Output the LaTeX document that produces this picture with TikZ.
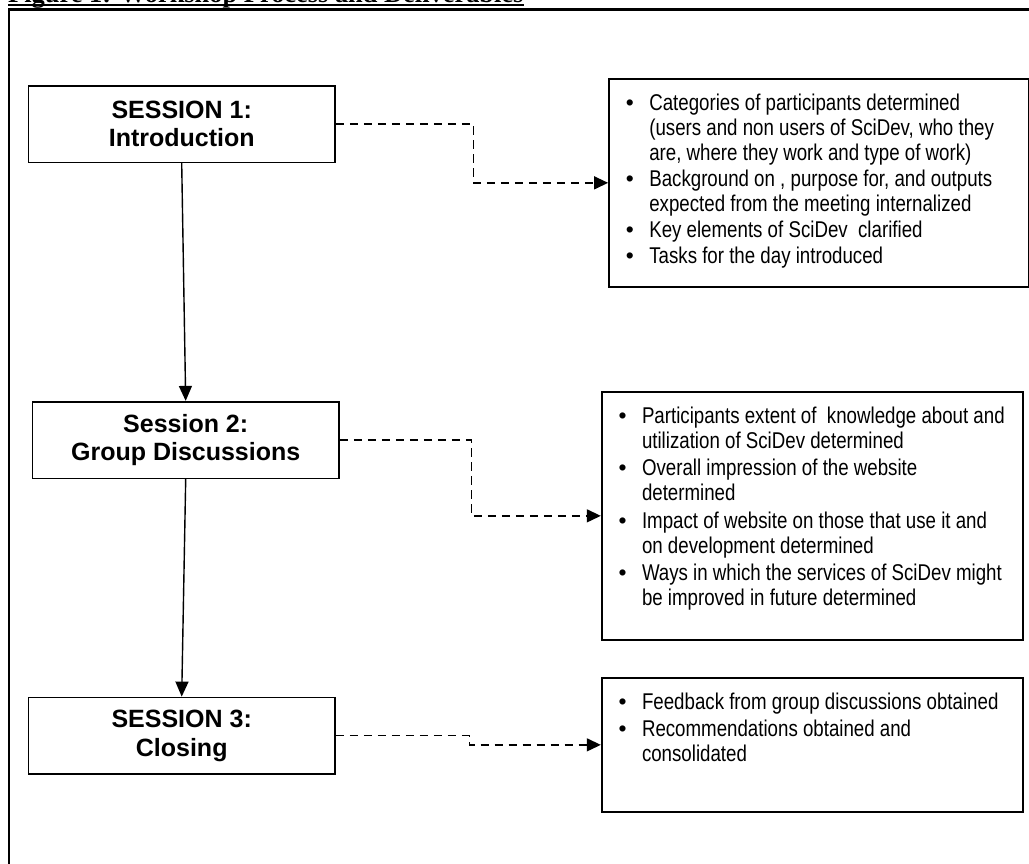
\documentclass[tikz,border=0pt]{standalone}
\usepackage{fontspec}
\setmainfont{Liberation Sans}
\newfontfamily\narrowfont[FakeStretch=0.82]{Liberation Sans}
\newfontfamily\bulletfont{Liberation Sans}
\newfontfamily\titlefont{Liberation Serif}
\usetikzlibrary{arrows.meta}
\newcommand\bl{\makebox[39pt][c]{{\bulletfont\symbol{"2022}}}}
\newcommand\ind{\hspace*{39pt}}
\tikzset{
  sessionbox/.style={draw, line width=1.6pt, minimum width=306.6pt, minimum height=76.6pt, inner sep=0pt, align=center, font=\fontsize{25}{28.5}\selectfont\bfseries},
  resultbox/.style={draw, line width=1.8pt, inner sep=0pt},
  resulttext/.style={anchor=base west, inner sep=0pt, font=\narrowfont\fontsize{22.8}{25}\selectfont},
  flowarrow/.style={line width=1.4pt, -{Triangle[length=15pt,width=13pt]}},
  dashlink/.style={line width=1.4pt, dash pattern=on 8.5pt off 5.5pt, -{Triangle[length=14pt,width=13pt]}},
}
\begin{document}
\begin{tikzpicture}[x=1pt,y=-1pt]
\useasboundingbox (0,0) rectangle (1029,863);
\fill[white] (0,0) rectangle (1029,863);
\clip (0,0) rectangle (1029,863);
\node[anchor=base west, inner sep=0pt, font=\titlefont\bfseries\fontsize{26.4}{30}\selectfont] (title) at (8,2.2) {Figure 1: Workshop Process and Deliverables};
\draw[line width=1.8pt] ([yshift=-2.8pt]title.base west) -- ([yshift=-2.8pt]title.base east);
\draw[line width=2.5pt] (9,9.5) rectangle (1060,900);

\node[sessionbox] (b1) at (181.7,124) {SESSION 1:\\Introduction};
\node[sessionbox] (b2) at (185.7,440) {Session 2:\\Group Discussions};
\node[sessionbox] (b3) at (181.7,735.7) {SESSION 3:\\Closing};

\node[resultbox, minimum width=419.5pt, minimum height=207.7pt] (d1) at (818.75,182.85) {};
\node[resultbox, minimum width=421.3pt, minimum height=248.3pt] (d2) at (812.35,515.85) {};
\node[resultbox, minimum width=421.3pt, minimum height=133.7pt] (d3) at (812.35,744.85) {};

\node[resulttext] (t1) at ([xshift=2pt,yshift=-32.5pt]d1.north west) {\begin{tabular}[t]{@{}l@{}}
\bl Categories of participants determined\\
\ind (users and non users of SciDev, who they\\
\ind are, where they work and type of work)\\[1pt]
\bl Background on , purpose for, and outputs\\
\ind expected from the meeting internalized\\[1pt]
\bl Key elements of SciDev~ clarified\\[1pt]
\bl Tasks for the day introduced
\end{tabular}};

\node[resulttext] (t2) at ([xshift=2pt,yshift=-32.5pt]d2.north west) {\begin{tabular}[t]{@{}l@{}}
\bl Participants extent of~ knowledge about and\\
\ind utilization of SciDev determined\\[2.5pt]
\bl Overall impression of the website\\
\ind determined\\[2.5pt]
\bl Impact of website on those that use it and\\
\ind on development determined\\[2.5pt]
\bl Ways in which the services of SciDev might\\
\ind be improved in future determined
\end{tabular}};

\node[resulttext] (t3) at ([xshift=2pt,yshift=-32pt]d3.north west) {\begin{tabular}[t]{@{}l@{}}
\bl Feedback from group discussions obtained\\[2.5pt]
\bl Recommendations obtained and\\
\ind consolidated
\end{tabular}};

\draw[flowarrow] (b1.south) -- (b2.north);
\draw[flowarrow] (b2.south) -- (b3.north);
\draw[dashlink] (b1.east) -- ++(137.7,0) |- (d1.west);
\draw[dashlink] (b2.east) -- ++(131.6,0) |- (d2.west);
\draw[dashlink] (b3.east) -- ++(133.5,0) |- (d3.west);
\end{tikzpicture}
\end{document}
